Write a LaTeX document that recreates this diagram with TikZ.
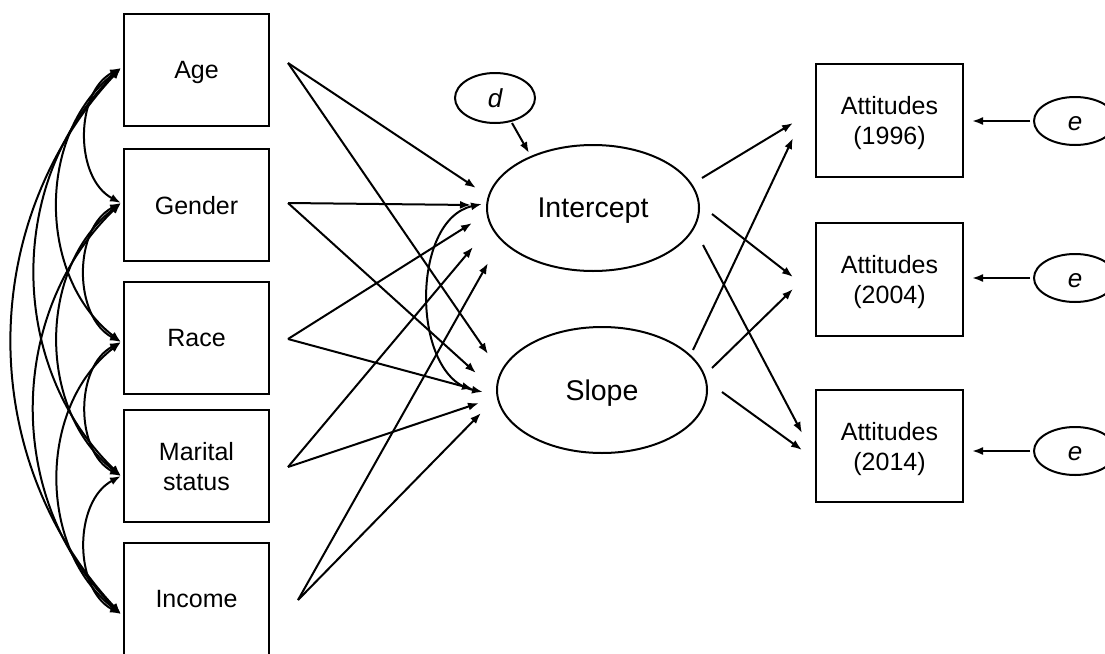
\documentclass[tikz,border=0pt]{standalone}
\usepackage{fontspec}
\setmainfont{Liberation Sans}
\usetikzlibrary{arrows.meta,shapes.geometric}
\begin{document}
\begin{tikzpicture}[x=1pt,y=1pt,
  box/.style={draw, line width=2pt, minimum width=145pt, minimum height=112pt,
    inner sep=0pt, align=center, text depth=0pt, font=\fontsize{25}{30}\selectfont},
  latent/.style={draw, ellipse, line width=2pt, inner sep=0pt, text depth=0pt,
    font=\fontsize{28.5}{32}\selectfont},
  resid/.style={draw, ellipse, line width=2pt, inner sep=0pt, text height=19pt,
    text depth=0pt, font=\fontsize{26}{30}\selectfont\itshape},
  path/.style={line width=2pt, -{Latex[length=11pt,width=8pt]}},
  cov/.style={line width=2pt, {Latex[length=11pt,width=8pt]}-{Latex[length=11pt,width=8pt]}}
]
\clip (0,0) rectangle (1105,-653);

% observed predictors
\node[box] (age)     at (196.5,-70)   {Age};
\node[box] (gender)  at (196.5,-205)  {Gender};
\node[box] (race)    at (196.5,-337.5){Race};
\node[box] (marital) at (196.5,-466)  {Marital\\status};
\node[box] (income)  at (196.5,-599)  {Income};

% growth factors
\node[latent, minimum width=212pt, minimum height=126pt] (int)   at (593,-208) {Intercept};
\node[latent, minimum width=210pt, minimum height=126pt] (slope) at (602,-390) {Slope};
\node[resid, minimum width=80pt, minimum height=50pt] (d) at (495,-98) {d};

% repeated outcomes
\node[box, minimum width=147pt, minimum height=113pt] (t1) at (889.5,-120.5) {Attitudes\\(1996)};
\node[box, minimum width=147pt, minimum height=113pt] (t2) at (889.5,-279.5) {Attitudes\\(2004)};
\node[box, minimum width=147pt, minimum height=112pt] (t3) at (889.5,-446)   {Attitudes\\(2014)};

\node[resid, minimum width=82pt, minimum height=48pt] (e1) at (1075,-121) {e};
\node[resid, minimum width=82pt, minimum height=48pt] (e2) at (1075,-278) {e};
\node[resid, minimum width=82pt, minimum height=48pt] (e3) at (1075,-451) {e};

% start points of the regression paths
\coordinate (ageS)    at (288,-63);
\coordinate (genderS) at (288,-203);
\coordinate (raceS)   at (288,-339);
\coordinate (maritalS)at (288,-467);
\coordinate (incomeS) at (298,-600);

% tips at the intercept
\coordinate (intA) at (476,-188);
\coordinate (intG) at (471,-205);
\coordinate (intR) at (472,-223);
\coordinate (intM) at (473,-247);
\coordinate (intI) at (488,-263);
% tips at the slope
\coordinate (slA) at (488,-354);
\coordinate (slG) at (476,-373);
\coordinate (slR) at (473,-389);
\coordinate (slM) at (479,-403);
\coordinate (slI) at (481,-413);

\draw[path] (ageS) -- (intA);
\draw[path] (ageS) -- (slA);
\draw[path] (genderS) -- (intG);
\draw[path] (genderS) -- (slG);
\draw[path] (raceS) -- (intR);
\draw[path] (raceS) -- (slR);
\draw[path] (maritalS) -- (intM);
\draw[path] (maritalS) -- (slM);
\draw[path] (incomeS) -- (intI);
\draw[path] (incomeS) -- (slI);

% intercept-slope covariance
\coordinate (covT) at (482,-204);
\coordinate (covB) at (483,-392);
\draw[cov] (covT) to[bend right=78] (covB);

% disturbance
\coordinate (dS) at (512,-123);
\coordinate (dE) at (529,-153);
\draw[path] (dS) -- (dE);

% factor loadings
\coordinate (iS1) at (702,-178);
\coordinate (iS2) at (712,-214);
\coordinate (iS3) at (703,-245);
\coordinate (sS1) at (693,-350);
\coordinate (sS2) at (712,-368);
\coordinate (sS3) at (722,-392);
\coordinate (t1I) at (793,-123);
\coordinate (t1S) at (793,-138);
\coordinate (t2I) at (793,-277);
\coordinate (t2S) at (793,-289);
\coordinate (t3I) at (802,-433);
\coordinate (t3S) at (802,-450);
\draw[path] (iS1) -- (t1I);
\draw[path] (iS2) -- (t2I);
\draw[path] (iS3) -- (t3I);
\draw[path] (sS1) -- (t1S);
\draw[path] (sS2) -- (t2S);
\draw[path] (sS3) -- (t3S);

% measurement errors
\coordinate (e1S) at (1030,-121);
\coordinate (e2S) at (1030,-278);
\coordinate (e3S) at (1030,-451);
\coordinate (e1E) at (972,-121);
\coordinate (e2E) at (972,-278);
\coordinate (e3E) at (972,-451);
\draw[path] (e1S) -- (e1E);
\draw[path] (e2S) -- (e2E);
\draw[path] (e3S) -- (e3E);

% correlations among the predictors
\coordinate (cA) at (121,-68);
\coordinate (cG) at (121,-203);
\coordinate (cR) at (121,-342);
\coordinate (cM) at (121,-476);
\coordinate (cI) at (121,-614);
\draw[cov] (cA) to[bend right=62] (cG);
\draw[cov] (cA) to[bend right=52] (cR);
\draw[cov] (cA) to[bend right=46] (cM);
\draw[cov] (cA) to[bend right=43] (cI);
\draw[cov] (cG) to[bend right=62] (cR);
\draw[cov] (cG) to[bend right=52] (cM);
\draw[cov] (cG) to[bend right=46] (cI);
\draw[cov] (cR) to[bend right=62] (cM);
\draw[cov] (cR) to[bend right=52] (cI);
\draw[cov] (cM) to[bend right=62] (cI);
\end{tikzpicture}
\end{document}
